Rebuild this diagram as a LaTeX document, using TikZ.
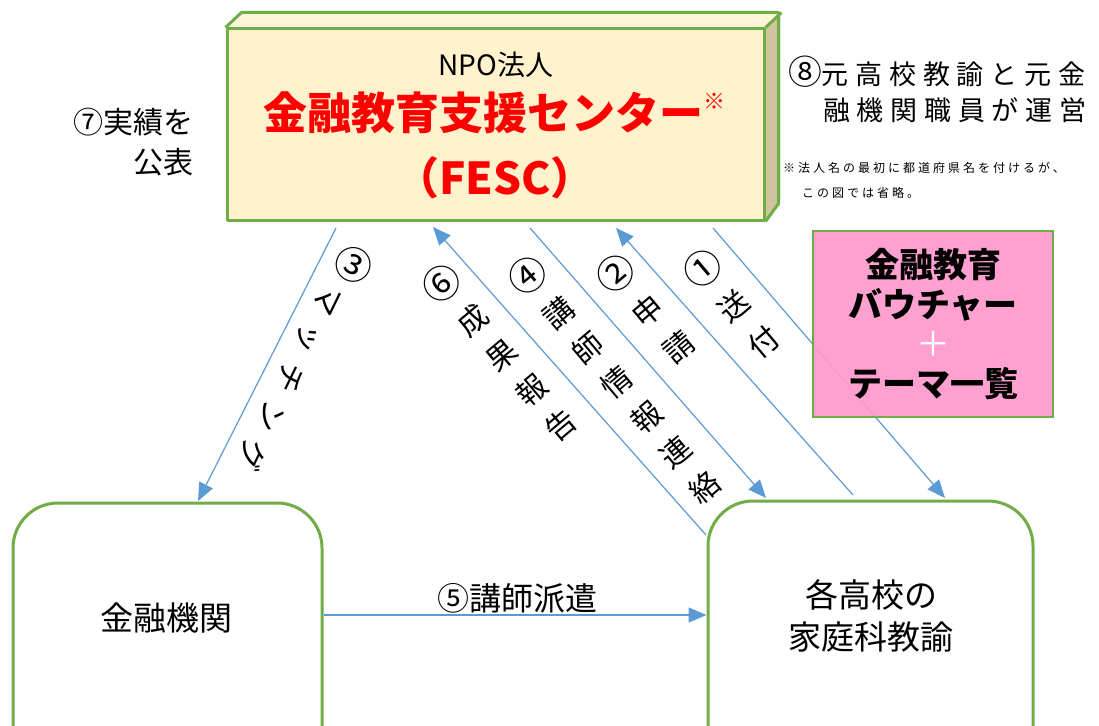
\documentclass[tikz,border=0pt]{standalone}
\usepackage{fontspec}
\setmainfont{Noto Sans CJK JP}
\newfontfamily\spacedfont[LetterSpace=25]{Noto Sans CJK JP}
\usetikzlibrary{arrows.meta,calc}
\definecolor{fescfill}{RGB}{255,242,204}
\definecolor{fesctop}{RGB}{255,245,215}
\definecolor{fescside}{RGB}{208,196,160}
\definecolor{grn}{RGB}{112,173,71}
\definecolor{arrowblue}{RGB}{91,155,213}
\definecolor{pinkfill}{RGB}{255,153,204}
\definecolor{fescred}{RGB}{255,0,0}
\newcommand\circdig[1]{\scalebox{1.25}{#1}}
\newcommand\kbox[1]{\makebox[43pt]{#1}}
\begin{document}
\begin{tikzpicture}[x=1pt,y=-1pt,
  greenline/.style={draw=grn, line width=3pt, line join=round},
  conn/.style={draw=arrowblue, line width=1.2pt, -{Triangle[length=18pt,width=15pt]}},
  vlbl/.style={inner sep=0pt, align=center, rotate=40},
  big/.style={font=\fontsize{33}{42}\selectfont, inner sep=0pt, align=center}]
\useasboundingbox (0,0) rectangle (1099,725);
\clip (0,0) rectangle (1099,725);
\fill[white] (0,0) rectangle (1099,725);

% ---- FESC 3D box ----
\fill[fesctop] (227,29) -- (243,14) -- (780,14) -- (764,29) -- cycle;
\fill[fescside] (764,29) -- (780,14) -- (780,205) -- (764,220) -- cycle;
\node[greenline, fill=fescfill, minimum width=537pt, minimum height=191pt, inner sep=0pt] (fesc) at (495.5,124.5) {};
\draw[greenline] (fesc.north west) -- ++(16,-15) -- ++(537,0) -- ++(0,191) -- (fesc.south east);
\draw[greenline] (fesc.north east) -- ++(16,-15);

\node[font=\fontsize{28}{30}\selectfont, inner sep=0pt] (npo) at (496,65) {NPO法人};
\node[anchor=west, font=\bfseries\fontsize{44}{48}\selectfont, text=fescred, inner sep=0pt] (center) at (263,113) {金融教育支援センター\raisebox{0.45em}{\fontsize{22}{22}\selectfont ※}};
\node[font=\bfseries\fontsize{44}{48}\selectfont, text=fescred, inner sep=0pt] (abbr) at (495,178) {（FESC）};

% ---- side texts ----
\node[anchor=east, align=right, font=\fontsize{30}{40}\selectfont, inner sep=0pt] (jisseki) at (194,142) {⑦実績を\\公表};
\node[anchor=west, font=\spacedfont\fontsize{27}{30}\selectfont, inner sep=0pt] (unei1) at (788,72) {\circdig{⑧}元高校教諭と元金};
\node[anchor=west, font=\spacedfont\fontsize{27}{30}\selectfont, inner sep=0pt] (unei2) at (823,110) {融機関職員が運営};
\node[anchor=west, font=\spacedfont\fontsize{12}{14}\selectfont, inner sep=0pt] (note1) at (783,168) {※法人名の最初に都道府県名を付けるが、};
\node[anchor=west, font=\spacedfont\fontsize{12}{14}\selectfont, inner sep=0pt] (note2) at (802,193) {この図では省略。};

% ---- bottom boxes ----
\node[greenline, fill=white, rounded corners=45pt, minimum width=309pt, minimum height=300pt, inner sep=0pt] (kikan) at (167.5,653) {};
\node[big] (kikantxt) at (166,618) {金融機関};
\node[greenline, fill=white, rounded corners=45pt, minimum width=325pt, minimum height=300pt, inner sep=0pt] (school) at (870.5,651) {};
\node[big] (schooltxt) at (871,616) {各高校の\\家庭科教諭};

% ---- connector end points ----
\coordinate (c3s) at (336,228);  \coordinate (c3e) at (198,501);
\coordinate (c6s) at (706,535);  \coordinate (c6e) at (433,227);
\coordinate (c4s) at (530,228);  \coordinate (c4e) at (766,498);
\coordinate (c2s) at (853,495);  \coordinate (c2e) at (616,228);
\coordinate (c1s) at (713,228);  \coordinate (c1e) at (945,498);
\coordinate (c5) at (500,615);

\draw[conn] (c3s) -- (c3e);
\draw[conn] (c6s) -- (c6e);
\draw[conn] (c4s) -- (c4e);
\draw[conn] (c2s) -- (c2e);
\draw[conn] (c1s) -- (c1e);
\draw[conn] (kikan.east |- c5) -- (school.west |- c5);
\node[font=\fontsize{32}{34}\selectfont, inner sep=0pt] (haken) at (517,598) {⑤講師派遣};

% ---- diagonal labels ----
\node[inner sep=0pt, rotate=-116, font=\fontsize{30}{30}\selectfont] (l3) at (305,361.5)
  {\kbox{\rotatebox{90}{\circdig{③}}}\kbox{マ}\kbox{ッ}\kbox{チ}\kbox{ン}\kbox{グ}};
\node[vlbl, font=\fontsize{30}{45.8}\selectfont] (l6) at (500,353) {\circdig{⑥}\\成\\果\\報\\告};
\node[vlbl, font=\fontsize{30}{45.4}\selectfont] (l4) at (615,380) {\circdig{④}\\講\\師\\情\\報\\連\\絡};
\node[vlbl, font=\fontsize{30}{47}\selectfont] (l2) at (646,309) {\circdig{②}\\申\\請};
\node[vlbl, font=\fontsize{30}{46.2}\selectfont] (l1) at (732,304) {\circdig{①}\\送\\付};

% ---- voucher box ----
\node[draw=grn, line width=1.5pt, fill=pinkfill, fill opacity=0.92, text opacity=1,
      minimum width=240pt, minimum height=186pt, inner sep=0pt, align=center,
      font=\bfseries\fontsize{34}{39.5}\selectfont] (voucher) at (933,324)
      {金融教育\\バウチャー\\{\mdseries\color{white}＋}\\テーマ一覧};
\end{tikzpicture}
\end{document}
